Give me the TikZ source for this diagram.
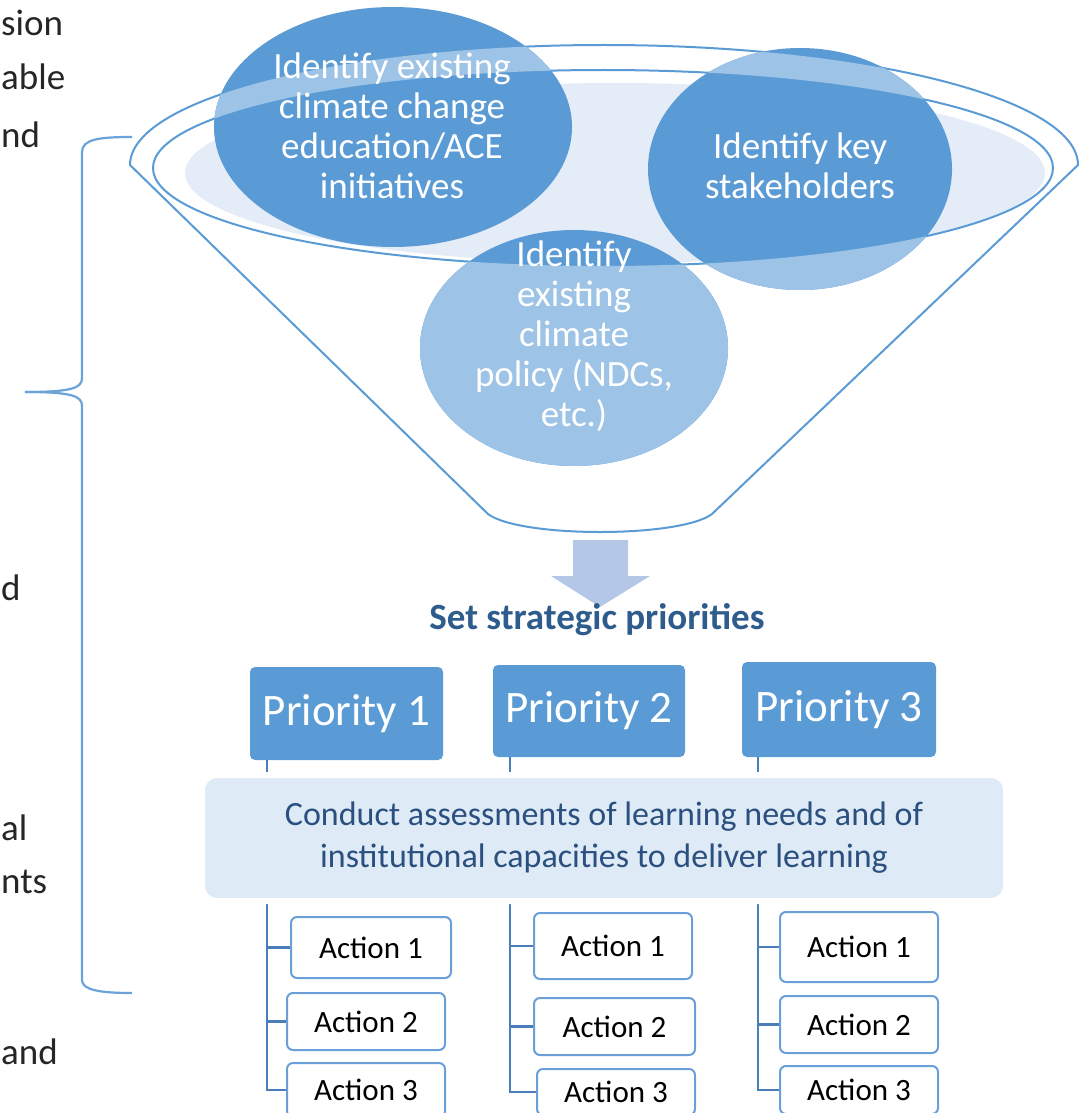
\documentclass[tikz,border=0pt]{standalone}
\usepackage{fontspec}
\setmainfont{Carlito}
\definecolor{dblue}{HTML}{5B9BD5}
\definecolor{lblue}{HTML}{9DC3E6}
\definecolor{rimfill}{HTML}{E4ECF7}
\definecolor{arrowc}{HTML}{B4C7E7}
\definecolor{boxfill}{HTML}{DEEBF7}
\definecolor{navy}{HTML}{2B4F7E}
\definecolor{titlec}{HTML}{2E5C8C}
\definecolor{treec}{HTML}{4A7EB8}
\definecolor{actborder}{HTML}{6A9FD8}
\definecolor{bracketc}{HTML}{6AA3DA}
\definecolor{leftc}{HTML}{262626}
\begin{document}
\begin{tikzpicture}[x=1pt,y=-1pt,
  rimline/.style={draw=dblue, line width=2pt},
  funnelpath/.style={insert path={(130,165) arc[start angle=180,end angle=360,x radius=474,y radius=120] -- (712,514) .. controls (680,538) and (520,538) .. (488,514) -- cycle}},
  ctext/.style={text=white, align=center, inner sep=0pt, font=\fontsize{37}{40}\selectfont},
  prio/.style={rectangle, rounded corners=5pt, fill=dblue, text=white, inner sep=0pt, font=\fontsize{45}{54}\selectfont},
  assess/.style={rectangle, rounded corners=15pt, fill=boxfill, draw=white, line width=6pt, text=navy, align=center, inner sep=0pt, font=\fontsize{34}{42}\selectfont},
  act/.style={rectangle, rounded corners=6pt, fill=white, draw=actborder, line width=2pt, text=black, inner sep=0pt, font=\fontsize{31}{36}\selectfont},
  tree/.style={draw=treec, line width=2.2pt},
  bracket/.style={draw=bracketc, line width=2.2pt},
  lefttext/.style={anchor=base west, inner sep=0pt, text=leftc, font=\fontsize{37}{44}\selectfont},
  titletext/.style={text=titlec, inner sep=0pt, font=\fontsize{37}{44}\selectfont\bfseries}
]
\useasboundingbox (0,0) rectangle (1091,1113);
\clip (0,0) rectangle (1091,1113);

% left cut-off text
\node[lefttext] (l1) at (1,36) {sion};
\node[lefttext] (l2) at (1,90) {able};
\node[lefttext] (l3) at (1,147) {nd};
\node[lefttext] (l4) at (1,600) {d};
\node[lefttext] (l5) at (1,840) {al};
\node[lefttext] (l6) at (1,893) {nts};
\node[lefttext] (l7) at (1,1064) {and};

% bracket
\draw[bracket] (132,137) .. controls (100,137) and (82,139) .. (82,152) -- (82,378) .. controls (82,388) and (72,392) .. (25,392);
\draw[bracket] (25,392) .. controls (72,392) and (82,396) .. (82,406) -- (82,980) .. controls (82,990) and (100,993) .. (132,993);

% funnel
\path[rimline, fill=white, funnelpath];
\fill[rimfill] (615,173) ellipse [x radius=430, y radius=90];
\draw[rimline] (603,168) ellipse [x radius=450, y radius=98];

% circles
\fill[dblue] (393,127) ellipse [x radius=179, y radius=120];
\fill[dblue] (800,169) ellipse [x radius=152, y radius=121];
\fill[dblue] (574,348) ellipse [x radius=154, y radius=118];
\begin{scope}
  \clip (393,127) ellipse [x radius=179, y radius=120];
  \fill[lblue, even odd rule, funnelpath] (603,168) ellipse [x radius=450, y radius=98];
\end{scope}
\begin{scope}
  \clip (800,169) ellipse [x radius=152, y radius=121];
  \fill[lblue, even odd rule, funnelpath] (603,168) ellipse [x radius=450, y radius=98];
\end{scope}
\begin{scope}
  \clip (574,348) ellipse [x radius=154, y radius=118];
  \fill[lblue, even odd rule, funnelpath] (603,168) ellipse [x radius=450, y radius=98];
\end{scope}

\node[ctext] (t1) at (392,126) {Identify existing\\climate change\\education/ACE\\initiatives};
\node[ctext] (t2) at (800,166) {Identify key\\stakeholders};
\node[ctext] (t3) at (574,336) {Identify\\existing\\climate\\policy (NDCs,\\etc.)};

% arrow
\fill[arrowc] (573,540) -- (628,540) -- (628,576) -- (650,576) -- (600,607) -- (551,576) -- (573,576) -- cycle;

\node[titletext] (st) at (597,620) {Set strategic priorities};

% priorities
\node[prio, minimum width=193pt, minimum height=93pt] (p1) at (346.5,713.5) {Priority 1};
\node[prio, minimum width=192pt, minimum height=92pt] (p2) at (589,711) {Priority 2};
\node[prio, minimum width=194pt, minimum height=95pt] (p3) at (839,709.5) {Priority 3};

% actions
\node[act, minimum width=160pt, minimum height=61pt] (a11) at (371,947.5) {Action 1};
\node[act, minimum width=158pt, minimum height=57pt] (a12) at (366,1021.5) {Action 2};
\node[act, minimum width=158pt, minimum height=54pt] (a13) at (366,1090) {Action 3};
\node[act, minimum width=158pt, minimum height=66pt] (a21) at (613,946) {Action 1};
\node[act, minimum width=161pt, minimum height=57pt] (a22) at (614.5,1026.5) {Action 2};
\node[act, minimum width=158pt, minimum height=46pt] (a23) at (616,1092) {Action 3};
\node[act, minimum width=158pt, minimum height=70pt] (a31) at (859,947) {Action 1};
\node[act, minimum width=158pt, minimum height=57pt] (a32) at (859,1024.5) {Action 2};
\node[act, minimum width=158pt, minimum height=48pt] (a33) at (859,1090) {Action 3};

% tree connectors
\coordinate (c1) at (267,760);
\coordinate (c2) at (510,757);
\coordinate (c3) at (758,757);
\draw[tree] (c1) |- (a13.west);
\draw[tree] (c1 |- a11.west) -- (a11.west);
\draw[tree] (c1 |- a12.west) -- (a12.west);
\draw[tree] (c2) |- (a23.west);
\draw[tree] (c2 |- a21.west) -- (a21.west);
\draw[tree] (c2 |- a22.west) -- (a22.west);
\draw[tree] (c3) |- (a33.west);
\draw[tree] (c3 |- a31.west) -- (a31.west);
\draw[tree] (c3 |- a32.west) -- (a32.west);

% assessment box (covers the tree lines)
\node[assess, minimum width=804pt, minimum height=126pt] (as) at (604,838) {Conduct assessments of learning needs and of\\institutional capacities to deliver learning};
\end{tikzpicture}
\end{document}
